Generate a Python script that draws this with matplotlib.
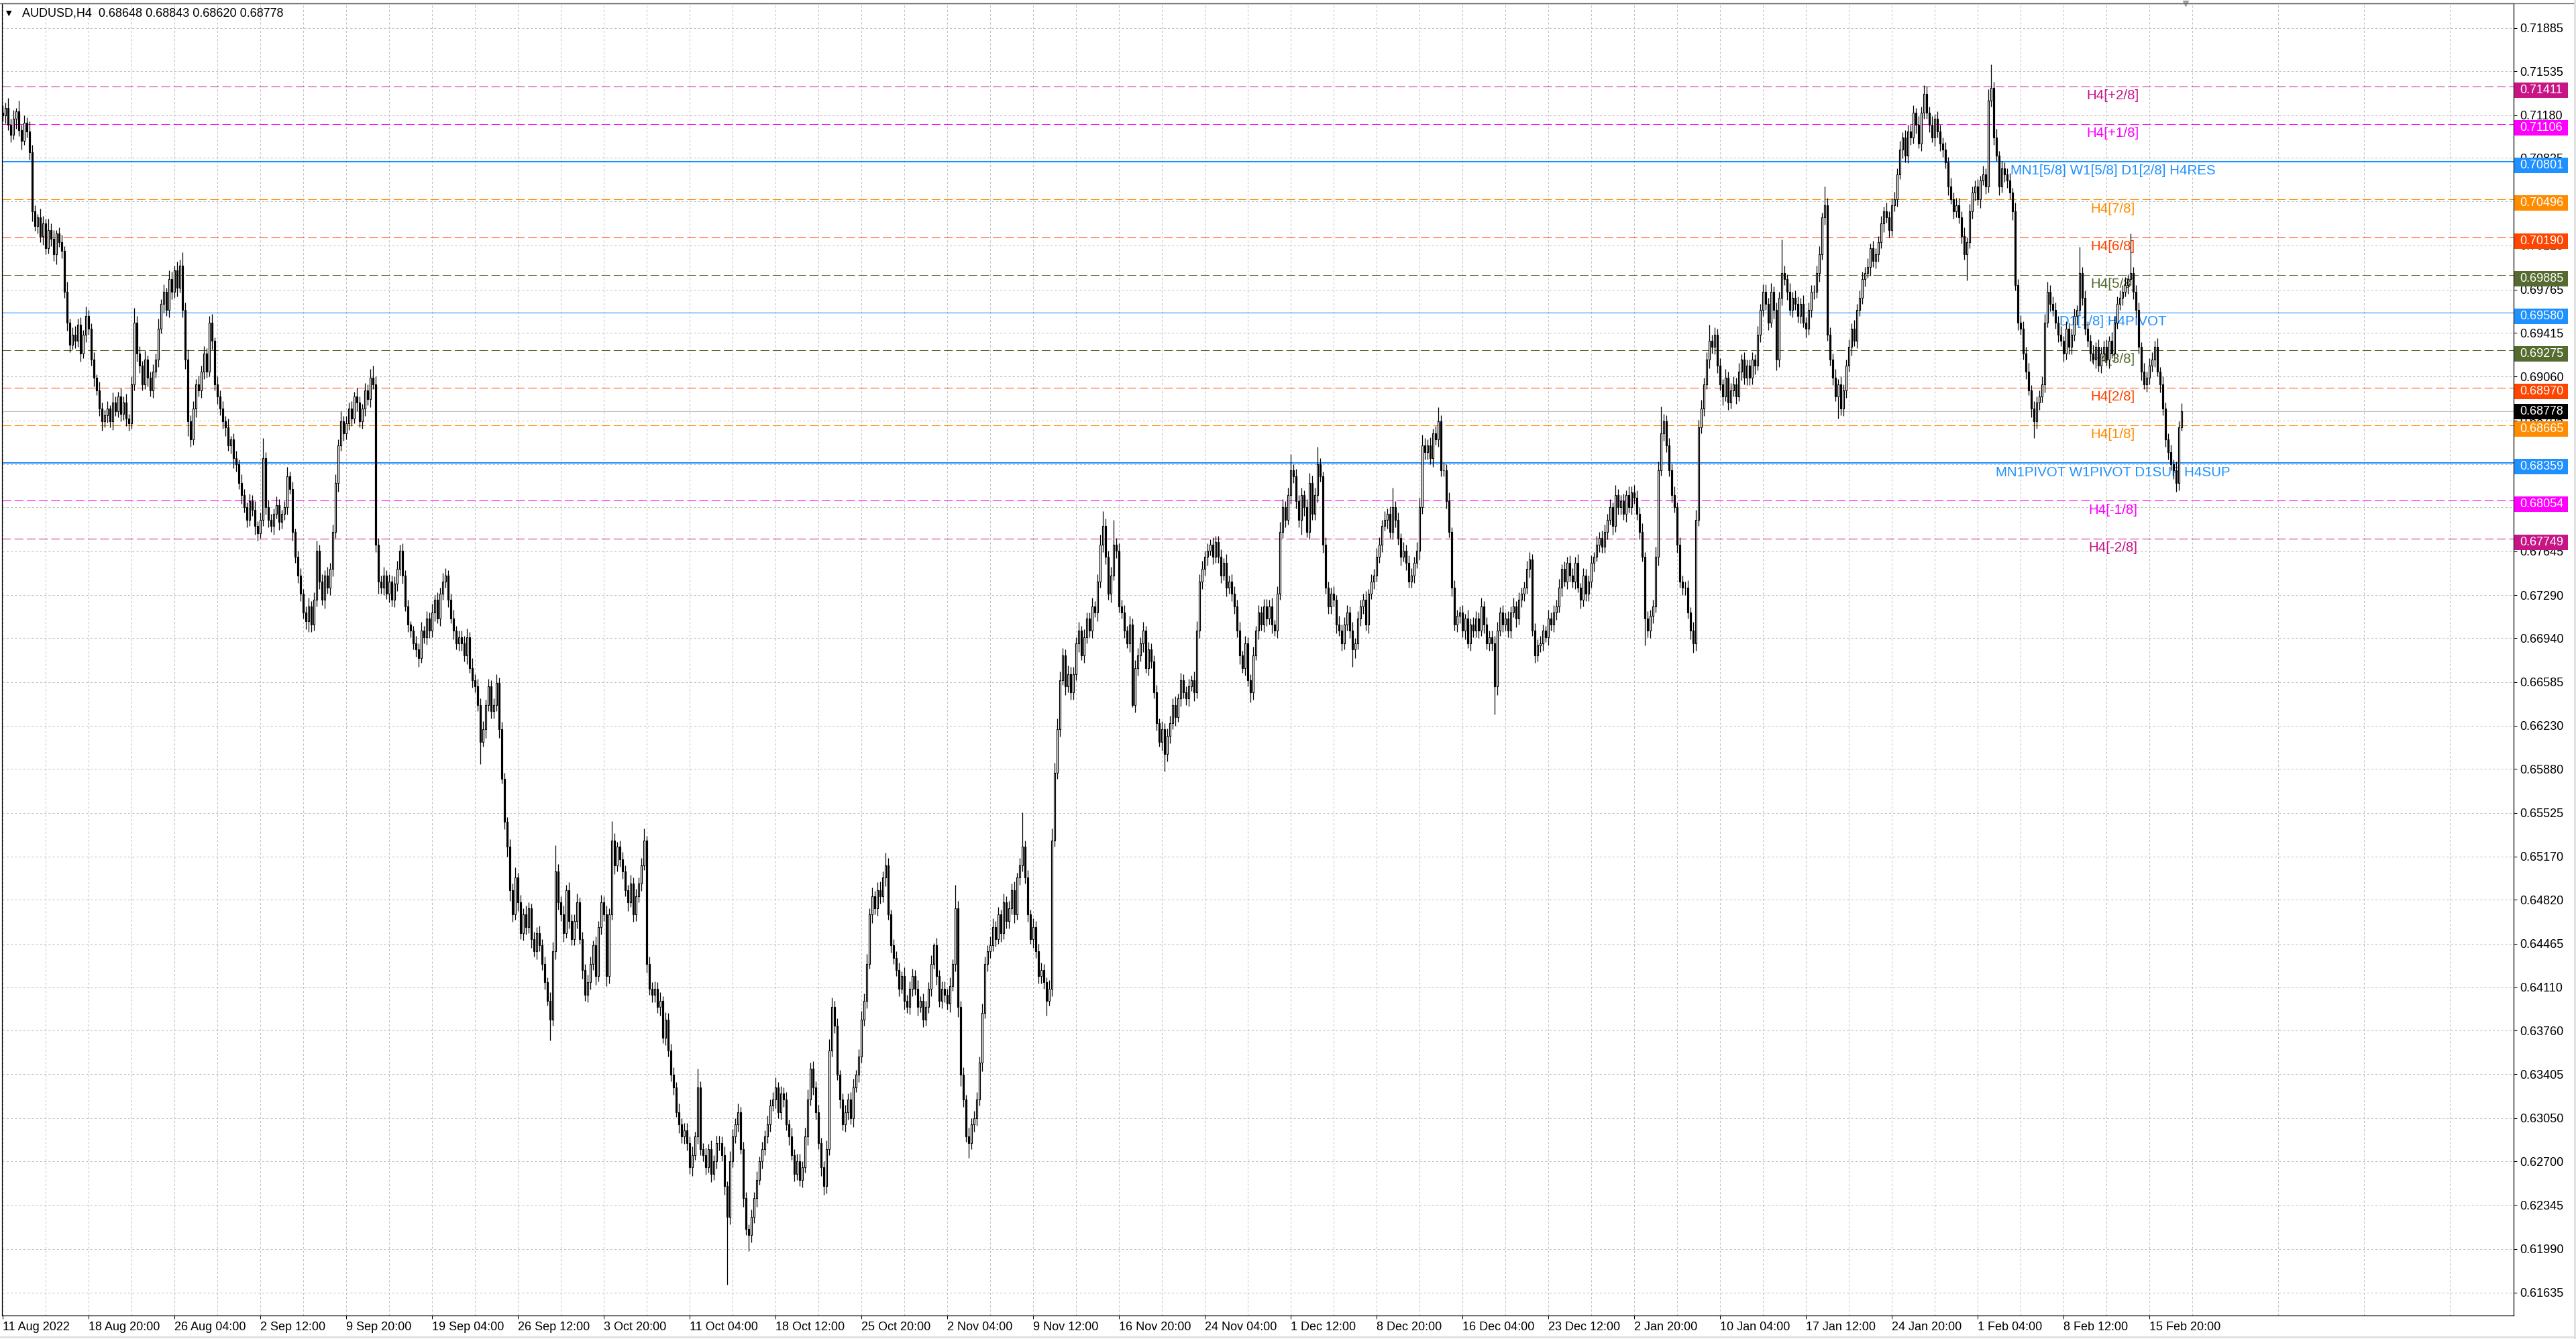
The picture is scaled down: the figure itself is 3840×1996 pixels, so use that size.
# AUDUSD H4 candles with Murrey-style levels, MT4 look
import matplotlib
matplotlib.use('Agg')
import matplotlib.pyplot as plt
from matplotlib import rcParams
from matplotlib.patches import Rectangle
from matplotlib.lines import Line2D
import matplotlib.transforms as mtransforms
import numpy as np

rcParams['font.family'] = ['Liberation Sans', 'DejaVu Sans']

symbol = 'AUDUSD,H4'
last_ohlc = [0.68648, 0.68843, 0.68620, 0.68778]
first_open = 7120  # pips

# H4 closes in pips (1e-4), one row per trading day (Thu 11 Aug 2022 .. Fri 17 Feb 2023)
close_pips = [
    [7118, 7124, 7110],
    [7102, 7115, 7121, 7106, 7097, 7112],
    [7105, 7088, 7040, 7028, 7035, 7020],
    [7030, 7010, 7025, 7018, 7005, 7022],
    [7015, 7008, 6975, 6950, 6932, 6940],
    [6935, 6948, 6925, 6940, 6955, 6945],
    [6920, 6905, 6895, 6880, 6870, 6875],
    [6880, 6870, 6885, 6878, 6890, 6876],
    [6885, 6872, 6868, 6900, 6950, 6925],
    [6915, 6900, 6920, 6905, 6895, 6910],
    [6920, 6945, 6965, 6975, 6960, 6985],
    [6975, 6992, 6978, 6996, 6960, 6920],
    [6870, 6855, 6880, 6900, 6895, 6910],
    [6925, 6910, 6950, 6935, 6900, 6890],
    [6880, 6870, 6865, 6850, 6855, 6840],
    [6835, 6820, 6810, 6800, 6790, 6805],
    [6798, 6785, 6779, 6790, 6840, 6800],
    [6790, 6785, 6795, 6802, 6788, 6795],
    [6800, 6825, 6815, 6780, 6760, 6745],
    [6730, 6715, 6708, 6720, 6705, 6725],
    [6765, 6740, 6725, 6745, 6735, 6750],
    [6780, 6820, 6850, 6870, 6860, 6868],
    [6880, 6872, 6890, 6885, 6870, 6880],
    [6895, 6888, 6905, 6900, 6770, 6740],
    [6735, 6745, 6730, 6740, 6725, 6738],
    [6750, 6765, 6745, 6720, 6705, 6700],
    [6690, 6685, 6678, 6700, 6695, 6710],
    [6700, 6715, 6725, 6710, 6730, 6740],
    [6745, 6725, 6710, 6700, 6690, 6695],
    [6690, 6680, 6695, 6670, 6660, 6655],
    [6640, 6610, 6620, 6640, 6655, 6635],
    [6640, 6658, 6620, 6580, 6545, 6525],
    [6490, 6470, 6500, 6480, 6455, 6470],
    [6460, 6475, 6450, 6440, 6455, 6445],
    [6430, 6415, 6400, 6385, 6440, 6505],
    [6480, 6470, 6455, 6490, 6465, 6450],
    [6465, 6480, 6450, 6425, 6405, 6415],
    [6430, 6445, 6420, 6460, 6480, 6470],
    [6420, 6470, 6530, 6510, 6525, 6515],
    [6505, 6490, 6480, 6495, 6470, 6485],
    [6495, 6510, 6530, 6430, 6410, 6405],
    [6410, 6395, 6400, 6370, 6385, 6360],
    [6340, 6330, 6310, 6300, 6290, 6295],
    [6285, 6265, 6275, 6290, 6330, 6280],
    [6275, 6265, 6280, 6260, 6270, 6285],
    [6285, 6275, 6250, 6225, 6270, 6290],
    [6300, 6310, 6280, 6240, 6215, 6210],
    [6225, 6240, 6255, 6270, 6280, 6290],
    [6300, 6315, 6320, 6330, 6310, 6325],
    [6320, 6300, 6290, 6275, 6260, 6270],
    [6255, 6265, 6290, 6320, 6345, 6330],
    [6310, 6285, 6265, 6250, 6280, 6360],
    [6395, 6380, 6340, 6320, 6300, 6310],
    [6320, 6305, 6330, 6340, 6355, 6385],
    [6400, 6430, 6470, 6485, 6475, 6490],
    [6485, 6500, 6510, 6470, 6445, 6435],
    [6425, 6410, 6420, 6400, 6395, 6410],
    [6420, 6410, 6395, 6400, 6385, 6395],
    [6410, 6430, 6445, 6420, 6400, 6410],
    [6405, 6398, 6412, 6430, 6475, 6395],
    [6340, 6320, 6290, 6285, 6300, 6305],
    [6320, 6350, 6390, 6430, 6440, 6445],
    [6460, 6450, 6470, 6455, 6480, 6465],
    [6475, 6490, 6470, 6500, 6510, 6525],
    [6500, 6470, 6450, 6460, 6440, 6420],
    [6425, 6415, 6400, 6410, 6530, 6585],
    [6620, 6660, 6680, 6655, 6665, 6650],
    [6665, 6690, 6700, 6680, 6695, 6710],
    [6700, 6720, 6715, 6740, 6770, 6785],
    [6760, 6730, 6745, 6770, 6765, 6720],
    [6715, 6700, 6690, 6705, 6640, 6670],
    [6680, 6690, 6700, 6670, 6685, 6675],
    [6650, 6625, 6610, 6620, 6600, 6615],
    [6625, 6640, 6630, 6645, 6660, 6650],
    [6645, 6655, 6660, 6650, 6700, 6740],
    [6750, 6760, 6765, 6770, 6760, 6772],
    [6760, 6745, 6755, 6735, 6740, 6730],
    [6720, 6700, 6680, 6670, 6690, 6660],
    [6650, 6680, 6700, 6715, 6705, 6720],
    [6710, 6720, 6705, 6700, 6730, 6780],
    [6800, 6790, 6810, 6830, 6825, 6805],
    [6790, 6810, 6800, 6780, 6820, 6795],
    [6810, 6835, 6825, 6770, 6735, 6720],
    [6730, 6725, 6705, 6700, 6690, 6705],
    [6715, 6700, 6685, 6690, 6710, 6720],
    [6725, 6705, 6730, 6740, 6745, 6760],
    [6770, 6785, 6790, 6795, 6780, 6800],
    [6790, 6775, 6760, 6765, 6755, 6740],
    [6745, 6755, 6765, 6800, 6850, 6845],
    [6850, 6840, 6860, 6855, 6870, 6830],
    [6830, 6805, 6780, 6735, 6705, 6712],
    [6715, 6700, 6710, 6690, 6705, 6700],
    [6710, 6700, 6720, 6705, 6690, 6695],
    [6690, 6655, 6700, 6715, 6705, 6710],
    [6700, 6715, 6720, 6710, 6725, 6730],
    [6735, 6750, 6758, 6700, 6680, 6688],
    [6690, 6700, 6695, 6710, 6705, 6715],
    [6720, 6735, 6750, 6740, 6755, 6745],
    [6740, 6755, 6735, 6725, 6745, 6730],
    [6740, 6755, 6760, 6770, 6775, 6768],
    [6780, 6790, 6800, 6785, 6810, 6800],
    [6805, 6795, 6810, 6800, 6812, 6808],
    [6795, 6780, 6760, 6710, 6700, 6712],
    [6720, 6760, 6830, 6860, 6870, 6850],
    [6830, 6810, 6800, 6770, 6740, 6735],
    [6735, 6715, 6700, 6690, 6790, 6865],
    [6880, 6900, 6920, 6935, 6930, 6940],
    [6915, 6900, 6890, 6905, 6885, 6895],
    [6900, 6890, 6910, 6920, 6905, 6915],
    [6905, 6920, 6915, 6940, 6960, 6975],
    [6965, 6950, 6975, 6960, 6920, 6970],
    [6990, 6985, 6975, 6960, 6970, 6965],
    [6955, 6965, 6950, 6945, 6960, 6975],
    [6975, 6990, 7005, 7035, 7045, 6940],
    [6920, 6905, 6890, 6900, 6880, 6895],
    [6915, 6930, 6945, 6935, 6960, 6970],
    [6985, 6990, 6995, 7010, 7000, 7005],
    [7015, 7030, 7040, 7035, 7025, 7045],
    [7050, 7070, 7090, 7100, 7085, 7105],
    [7100, 7120, 7110, 7095, 7120, 7135],
    [7120, 7110, 7100, 7115, 7105, 7095],
    [7090, 7080, 7060, 7050, 7040, 7045],
    [7035, 7020, 7005, 7015, 7040, 7055],
    [7060, 7050, 7065, 7070, 7060, 7130],
    [7140, 7100, 7085, 7060, 7075, 7070],
    [7065, 7055, 7040, 6980, 6950, 6945],
    [6925, 6910, 6895, 6880, 6870, 6885],
    [6890, 6900, 6950, 6975, 6965, 6960],
    [6950, 6940, 6935, 6925, 6945, 6930],
    [6940, 6955, 6960, 6990, 6970, 6945],
    [6935, 6925, 6920, 6930, 6915, 6925],
    [6930, 6920, 6935, 6925, 6950, 6965],
    [6970, 6975, 6980, 6985, 6990, 6975],
    [6960, 6930, 6910, 6900, 6905, 6915],
    [6920, 6930, 6910, 6900, 6880, 6855],
    [6845, 6835, 6830, 6820, 6864.8, 6877.8],
]

# upper shadow above the body, pips
wick_up = [
    [6, 4, 8],
    [5, 7, 3, 9, 4, 6], [4, 8, 6, 5, 3, 7], [6, 4, 9, 5, 7, 3], [5, 6, 4, 8, 3, 6],
    [7, 5, 6, 4, 8, 5], [4, 6, 3, 7, 5, 4], [6, 3, 8, 5, 4, 7], [5, 7, 4, 6, 12, 5],
    [6, 4, 7, 3, 5, 6], [5, 8, 4, 6, 3, 7], [6, 4, 7, 5, 11, 6], [8, 5, 6, 4, 7, 5],
    [6, 4, 5, 7, 3, 6], [5, 6, 4, 7, 3, 5], [6, 4, 7, 5, 4, 6], [5, 7, 4, 6, 16, 5],
    [6, 5, 4, 7, 5, 3], [5, 8, 4, 6, 3, 5], [6, 4, 5, 7, 4, 6], [8, 5, 6, 4, 7, 5],
    [6, 7, 5, 8, 4, 6], [5, 6, 4, 7, 5, 4], [6, 5, 7, 10, 6, 5], [5, 7, 4, 6, 5, 6],
    [7, 5, 6, 4, 5, 3], [4, 6, 5, 7, 4, 6], [5, 7, 4, 6, 5, 7], [6, 4, 5, 7, 4, 5],
    [5, 6, 7, 4, 8, 5], [6, 5, 7, 4, 6, 5], [5, 7, 4, 6, 5, 4], [6, 5, 8, 4, 6, 5],
    [7, 5, 4, 6, 5, 6], [5, 6, 4, 7, 8, 21], [6, 5, 7, 4, 6, 5], [5, 7, 4, 6, 5, 6],
    [6, 4, 7, 5, 6, 5], [7, 5, 16, 6, 4, 5], [6, 5, 4, 7, 5, 6], [5, 6, 10, 4, 6, 5],
    [6, 5, 7, 4, 6, 5], [5, 6, 4, 7, 5, 6], [6, 5, 7, 4, 15, 5], [5, 6, 4, 7, 5, 6],
    [6, 5, 7, 4, 8, 6], [5, 7, 4, 6, 5, 4], [6, 5, 7, 4, 6, 5], [7, 5, 6, 8, 4, 6],
    [5, 6, 4, 7, 5, 6], [6, 5, 7, 8, 5, 6], [5, 6, 4, 5, 7, 9], [8, 5, 6, 4, 5, 6],
    [5, 6, 7, 4, 6, 7], [6, 8, 5, 7, 4, 6], [7, 5, 10, 6, 4, 5], [5, 6, 4, 7, 5, 6],
    [6, 5, 7, 4, 6, 5], [5, 7, 2, 6, 5, 6], [6, 5, 7, 4, 19, 6], [5, 6, 4, 7, 5, 6],
    [6, 5, 8, 6, 5, 7], [7, 5, 6, 4, 7, 5], [6, 5, 7, 4, 6, 28], [5, 6, 4, 7, 5, 6],
    [6, 5, 4, 7, 10, 8], [9, 7, 6, 5, 7, 6], [6, 5, 7, 4, 6, 5], [5, 7, 4, 6, 8, 12],
    [6, 5, 7, 20, 5, 6], [5, 6, 4, 7, 5, 6], [6, 5, 7, 4, 6, 5], [5, 6, 4, 7, 5, 6],
    [6, 5, 7, 4, 6, 5], [5, 6, 4, 7, 8, 6], [7, 5, 6, 4, 6, 5], [5, 6, 4, 7, 5, 6],
    [6, 5, 7, 4, 6, 5], [5, 7, 4, 6, 5, 6], [6, 5, 7, 4, 6, 8], [7, 5, 6, 13, 5, 6],
    [5, 6, 4, 7, 8, 6], [6, 14, 5, 4, 6, 5], [5, 6, 4, 7, 5, 6], [6, 5, 7, 4, 6, 5],
    [5, 7, 4, 6, 5, 7], [6, 5, 7, 4, 6, 16], [5, 6, 4, 7, 5, 6], [6, 5, 7, 8, 9, 6],
    [5, 7, 4, 6, 11, 5], [6, 5, 7, 4, 6, 5], [5, 6, 4, 7, 5, 6], [6, 5, 7, 4, 6, 5],
    [5, 6, 7, 4, 6, 5], [6, 5, 7, 4, 6, 5], [5, 7, 6, 4, 6, 5], [6, 5, 4, 7, 5, 6],
    [5, 7, 4, 6, 5, 6], [6, 5, 7, 4, 6, 5], [5, 6, 4, 7, 5, 6], [6, 5, 7, 4, 8, 5],
    [5, 6, 4, 7, 5, 6], [6, 5, 7, 4, 6, 5], [5, 8, 7, 22, 6, 5], [6, 5, 7, 4, 6, 5],
    [5, 6, 4, 7, 8, 6], [7, 5, 6, 13, 5, 6], [5, 6, 4, 7, 5, 6], [6, 5, 7, 4, 6, 5],
    [5, 6, 4, 7, 5, 6], [6, 5, 7, 4, 6, 5], [27, 6, 4, 7, 5, 6], [6, 5, 7, 4, 6, 5],
    [5, 6, 7, 4, 15, 6], [6, 5, 7, 4, 6, 5], [5, 6, 4, 7, 5, 6], [6, 5, 7, 4, 6, 5],
    [5, 6, 4, 7, 5, 6], [6, 5, 7, 4, 6, 5], [5, 6, 4, 7, 5, 7], [6, 5, 7, 4, 6, 5],
    [5, 6, 4, 7, 5, 6], [6, 5, 7, 4, 6, 5], [5, 6, 4, 7, 5, 9], [19, 5, 7, 4, 6, 5],
    [5, 6, 4, 7, 5, 6], [6, 5, 7, 4, 6, 5], [5, 6, 7, 8, 5, 6], [6, 5, 7, 4, 6, 5],
    [5, 6, 4, 21, 5, 6], [6, 5, 7, 4, 6, 5], [5, 6, 4, 7, 5, 6], [6, 5, 7, 4, 32, 5],
    [5, 6, 4, 7, 5, 6], [6, 5, 7, 4, 6, 5], [5, 6, 4, 7, 5, 6.5],
]

# lower shadow below the body, pips
wick_dn = [
    [5, 7, 4],
    [6, 4, 8, 5, 7, 3], [5, 6, 8, 4, 6, 5], [7, 5, 4, 6, 5, 8], [4, 6, 5, 7, 6, 4],
    [6, 5, 7, 4, 6, 5], [5, 7, 4, 6, 8, 5], [6, 5, 7, 4, 5, 6], [5, 6, 6, 4, 5, 7],
    [6, 5, 4, 7, 5, 6], [5, 6, 4, 7, 5, 6], [6, 5, 7, 4, 6, 8], [12, 6, 4, 7, 5, 6],
    [6, 5, 4, 7, 5, 6], [5, 6, 7, 4, 6, 8], [6, 5, 7, 4, 6, 5], [5, 7, 6, 4, 5, 6],
    [6, 5, 7, 4, 6, 5], [5, 6, 4, 7, 5, 6], [6, 5, 7, 9, 6, 5], [5, 6, 4, 7, 5, 6],
    [6, 5, 7, 4, 6, 5], [5, 6, 4, 7, 5, 6], [6, 5, 7, 4, 6, 10], [5, 6, 4, 7, 5, 6],
    [6, 5, 7, 4, 6, 5], [5, 6, 7, 4, 5, 6], [6, 5, 7, 4, 6, 5], [5, 6, 4, 7, 5, 6],
    [6, 5, 7, 4, 6, 5], [5, 18, 4, 7, 5, 6], [6, 5, 7, 4, 6, 8], [9, 6, 4, 7, 5, 6],
    [6, 5, 7, 4, 6, 5], [5, 6, 4, 17, 5, 6], [6, 5, 7, 4, 6, 5], [5, 6, 4, 7, 5, 6],
    [6, 5, 7, 4, 6, 5], [8, 6, 4, 7, 5, 6], [6, 5, 7, 4, 6, 5], [5, 6, 4, 7, 5, 6],
    [6, 5, 7, 4, 6, 5], [5, 6, 4, 7, 5, 6], [6, 5, 7, 4, 6, 5], [5, 6, 4, 7, 5, 6],
    [6, 5, 7, 55, 6, 5], [5, 6, 4, 7, 5, 13], [6, 5, 7, 4, 6, 5], [5, 6, 4, 7, 5, 6],
    [6, 5, 7, 4, 6, 5], [5, 6, 4, 7, 5, 6], [6, 5, 7, 7, 6, 5], [5, 6, 4, 7, 5, 6],
    [6, 5, 7, 4, 6, 5], [5, 6, 4, 7, 5, 6], [6, 5, 7, 4, 6, 5], [5, 6, 4, 7, 5, 6],
    [6, 5, 7, 4, 6, 5], [5, 6, 4, 7, 5, 6], [6, 5, 7, 4, 6, 8], [9, 6, 4, 12, 5, 6],
    [6, 5, 7, 4, 6, 5], [5, 6, 4, 7, 5, 6], [6, 5, 7, 4, 6, 5], [5, 6, 4, 7, 5, 6],
    [6, 5, 12, 4, 6, 5], [5, 6, 4, 7, 5, 6], [6, 5, 7, 4, 6, 5], [5, 6, 4, 7, 5, 6],
    [6, 5, 7, 4, 6, 5], [5, 6, 4, 7, 2, 6], [6, 5, 7, 4, 6, 5], [5, 6, 4, 7, 14, 6],
    [6, 5, 7, 4, 6, 5], [5, 6, 4, 7, 5, 6], [6, 5, 7, 4, 6, 5], [5, 6, 4, 7, 5, 6],
    [6, 5, 7, 4, 6, 5], [8, 6, 4, 7, 5, 6], [6, 5, 7, 4, 6, 5], [5, 6, 4, 7, 5, 6],
    [6, 12, 7, 4, 6, 5], [5, 6, 4, 7, 5, 6], [6, 5, 7, 4, 6, 5], [5, 6, 14, 7, 5, 6],
    [6, 5, 7, 4, 6, 5], [5, 6, 4, 7, 5, 6], [6, 5, 7, 4, 6, 5], [5, 6, 4, 7, 5, 6],
    [6, 5, 7, 4, 6, 5], [5, 6, 4, 7, 5, 6], [6, 5, 7, 4, 6, 5], [5, 6, 4, 7, 5, 6],
    [6, 23, 7, 4, 6, 5], [5, 6, 4, 7, 5, 6], [6, 5, 7, 4, 6, 5], [5, 6, 4, 7, 5, 6],
    [6, 5, 7, 4, 6, 5], [5, 6, 4, 7, 5, 6], [6, 5, 7, 4, 6, 5], [5, 6, 4, 7, 5, 6],
    [6, 5, 7, 4, 6, 5], [5, 6, 4, 22, 5, 6], [6, 5, 7, 4, 6, 5], [5, 6, 4, 7, 5, 6],
    [6, 5, 7, 8, 6, 5], [5, 6, 4, 7, 5, 6], [6, 5, 7, 4, 6, 5], [5, 6, 4, 7, 5, 6],
    [6, 5, 7, 4, 6, 5], [5, 6, 4, 7, 9, 6], [6, 5, 7, 4, 6, 5], [5, 6, 4, 7, 5, 6],
    [6, 5, 7, 4, 6, 5], [5, 6, 4, 18, 5, 6], [6, 5, 7, 4, 6, 5], [5, 6, 4, 7, 5, 6],
    [6, 5, 7, 4, 6, 5], [5, 6, 4, 7, 5, 6], [6, 5, 7, 4, 6, 5], [5, 6, 4, 7, 5, 6],
    [6, 5, 7, 4, 6, 5], [5, 6, 4, 21, 5, 6], [6, 5, 7, 4, 6, 5], [5, 6, 4, 7, 5, 6],
    [6, 5, 7, 4, 6, 5], [5, 6, 4, 7, 14, 6], [6, 5, 7, 4, 6, 5], [5, 6, 4, 7, 5, 6],
    [6, 5, 7, 4, 6, 5], [5, 6, 4, 7, 5, 6], [6, 5, 7, 4, 6, 5], [5, 6, 4, 7, 5, 6],
    [6, 5, 7, 4, 6, 5], [5, 6, 4, 7, 5, 6], [6, 5, 7, 7, 6, 2.8],
]

x_labels = ['11 Aug 2022', '18 Aug 20:00', '26 Aug 04:00', '2 Sep 12:00', '9 Sep 20:00',
            '19 Sep 04:00', '26 Sep 12:00', '3 Oct 20:00', '11 Oct 04:00', '18 Oct 12:00',
            '25 Oct 20:00', '2 Nov 04:00', '9 Nov 12:00', '16 Nov 20:00', '24 Nov 04:00',
            '1 Dec 12:00', '8 Dec 20:00', '16 Dec 04:00', '23 Dec 12:00', '2 Jan 20:00',
            '10 Jan 04:00', '17 Jan 12:00', '24 Jan 20:00', '1 Feb 04:00', '8 Feb 12:00',
            '15 Feb 20:00']

y_ticks = [0.61635, 0.61990, 0.62345, 0.62700, 0.63050, 0.63405, 0.63760, 0.64110,
           0.64465, 0.64820, 0.65170, 0.65525, 0.65880, 0.66230, 0.66585, 0.66940,
           0.67290, 0.67645, 0.68000, 0.68350, 0.68705, 0.69060, 0.69415, 0.69765,
           0.70125, 0.70480, 0.70835, 0.71180, 0.71535, 0.71885]

level_price = [0.71411, 0.71106, 0.70801, 0.70496, 0.70190, 0.69885, 0.69580,
               0.69275, 0.68970, 0.68665, 0.68359, 0.68054, 0.67749]
level_name = ['H4[+2/8]', 'H4[+1/8]', 'MN1[5/8] W1[5/8] D1[2/8] H4RES', 'H4[7/8]',
              'H4[6/8]', 'H4[5/8]', 'D1[1/8] H4PIVOT', 'H4[3/8]', 'H4[2/8]', 'H4[1/8]',
              'MN1PIVOT W1PIVOT D1SUP H4SUP', 'H4[-1/8]', 'H4[-2/8]']
level_color = ['#C71585', '#FF00FF', '#1E90FF', '#FF8C00', '#FF4500', '#556B2F',
               '#1E90FF', '#556B2F', '#FF4500', '#FF8C00', '#1E90FF', '#FF00FF', '#C71585']
level_kind = ['dash', 'dash', 'thick', 'dash', 'dash', 'dash', 'thin',
              'dash', 'dash', 'dash', 'thick', 'dash', 'dash']

# ---- data arrays
close = np.array([v for row in close_pips for v in row], dtype=float) / 1e4
up = np.array([v for row in wick_up for v in row], dtype=float) / 1e4
dn = np.array([v for row in wick_dn for v in row], dtype=float) / 1e4
n = min(len(close), len(up), len(dn))
close, up, dn = close[:n], up[:n], dn[:n]
opn = np.concatenate([[first_open / 1e4], close[:-1]])
high = np.maximum(opn, close) + up
low = np.minimum(opn, close) - dn
x = np.arange(n)

# ---- figure, pixel layout of the MT4 window
W, H = 3840, 1996
L, R, T, B = 3, 3747, 5, 1961
fig = plt.figure(figsize=(W / 100, H / 100), dpi=100, facecolor='white')
ax = fig.add_axes([L / W, 1 - B / H, (R - L) / W, (B - T) / H])
ax.set_facecolor('white')
ax.set_axisbelow(True)

ax.set_xlim(-0.25, 935.75)
ax.set_ylim(0.61450, 0.72086)
px_per_unit = (B - T) / (0.72086 - 0.61450)

# grid
ax.set_xticks(np.arange(0, 32 * len(x_labels), 32))
ax.set_xticklabels(x_labels)
ax.set_xticks(np.arange(16, 936, 32), minor=True)
ax.set_yticks(y_ticks)
ax.set_yticklabels(['%.5f' % v for v in y_ticks])
ax.grid(True, which='both', color='#C0C0C0', linestyle=(0, (3, 3)), linewidth=0.75)

ax.yaxis.tick_right()
ax.tick_params(axis='y', which='major', direction='out', length=3.5, width=0.75,
               pad=3, labelsize=13, colors='black')
ax.tick_params(axis='x', which='major', direction='out', length=3.5, width=0.75,
               pad=3, labelsize=13, colors='black')
ax.tick_params(axis='x', which='minor', length=0)
for lbl in ax.get_xticklabels():
    lbl.set_horizontalalignment('left')
for sp in ax.spines.values():
    sp.set_color('black')
    sp.set_linewidth(0.9)

# level lines and names
text_off = mtransforms.offset_copy(ax.transData, fig=fig, y=-3, units='points')
for p, name, c, kind in zip(level_price, level_name, level_color, level_kind):
    if kind == 'dash':
        ax.axhline(p, color=c, linewidth=0.75, linestyle=(0, (12.5, 5)), zorder=2)
    elif kind == 'thick':
        ax.axhline(p, color=c, linewidth=1.5, zorder=2)
    else:
        ax.axhline(p, color=c, linewidth=0.8, zorder=2)
    ax.text(786.5, p, name, color=c, fontsize=14.8, ha='center', va='top',
            transform=text_off, zorder=2.5)

# bid line
ax.axhline(last_ohlc[3], color='#C0C0C0', linewidth=0.8, zorder=2)

# candles
ax.vlines(x, low, high, color='black', linewidth=0.9, zorder=4)
bull = close >= opn
body_bottom = np.minimum(opn, close)
body_h = np.abs(close - opn)
ax.bar(x, body_h, bottom=body_bottom, width=0.62,
       color=np.where(bull, 'white', 'black'), edgecolor='black',
       linewidth=0.85, zorder=5)

# right-hand price boxes
trans = mtransforms.blended_transform_factory(ax.transAxes, ax.transData)
box_x0 = (R + 1 - L) / (R - L)
box_w = 80 / (R - L)
text_x = (3756 - L) / (R - L)
box_h = 23 / px_per_unit
shift = 5.5 / px_per_unit
for p, c in zip(level_price, level_color):
    yc = p - shift
    ax.add_patch(Rectangle((box_x0, yc - box_h / 2), box_w, box_h, transform=trans,
                           facecolor=c, edgecolor='none', clip_on=False, zorder=6))
    ax.text(text_x, yc, '%.5f' % p, transform=trans, color='white', fontsize=13,
            ha='left', va='center', clip_on=False, zorder=7)
p = last_ohlc[3]
ax.add_patch(Rectangle((box_x0, p - box_h / 2), box_w, box_h, transform=trans,
                       facecolor='black', edgecolor='none', clip_on=False, zorder=6))
ax.text(text_x, p, '%.5f' % p, transform=trans, color='white', fontsize=13,
        ha='left', va='center', clip_on=False, zorder=7)

# chart shift marker
ax.plot([n + 0.5], [0.72086], marker='v', color='#A0A0A0', markersize=6,
        clip_on=False, zorder=8)

# title
fig.text(9 / W, 1 - 20 / H, '\u25bc', fontsize=8, family='DejaVu Sans',
         ha='left', va='center', color='black')
fig.text(33 / W, 1 - 20 / H, '%s  %.5f %.5f %.5f %.5f' % (symbol, *last_ohlc),
         fontsize=13, ha='left', va='center', color='black')

# window border lines
fig.add_artist(Line2D([0, 1], [1 - T / H, 1 - T / H], color='#606060', linewidth=0.9))
fig.add_artist(Line2D([0, 1], [1 - 1993 / H, 1 - 1993 / H], color='#E0E0E0', linewidth=2))
fig.add_artist(Line2D([1 - 2 / W, 1 - 2 / W], [0, 1], color='#E0E0E0', linewidth=2))

fig.savefig('out.png', dpi=100, facecolor='white')
